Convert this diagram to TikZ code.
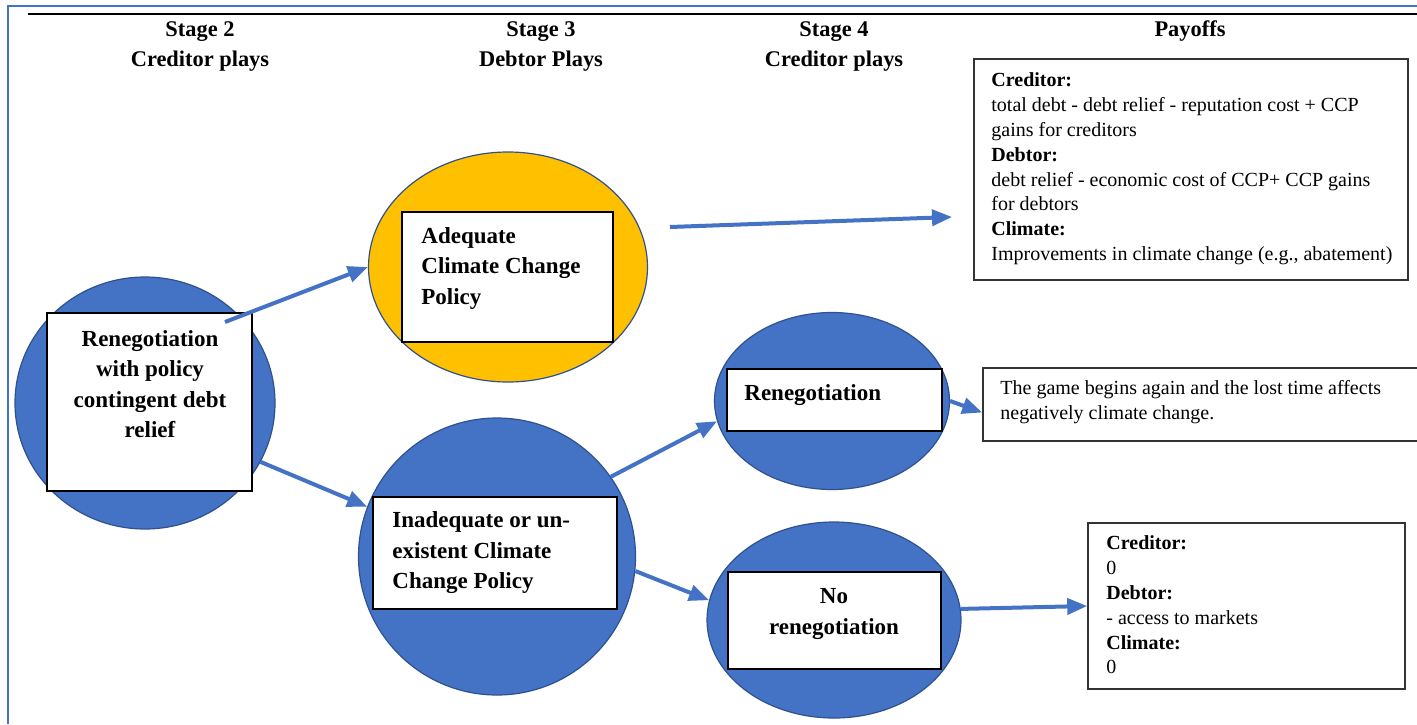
\documentclass[tikz,border=0pt]{standalone}
\usepackage{fontspec}
\setmainfont{Liberation Serif}
\usetikzlibrary{shapes.geometric,arrows.meta,calc}
\definecolor{obl}{HTML}{4472C4}
\definecolor{oblb}{HTML}{2F528F}
\definecolor{oyl}{HTML}{FFC000}
\begin{document}
\begin{tikzpicture}[x=0.5pt,y=-0.5pt,
  ell/.style={ellipse, draw=oblb, line width=0.6pt, inner sep=0pt},
  rbox/.style={rectangle, draw=black, line width=0.8pt, fill=white, inner sep=0pt},
  pbox/.style={rectangle, draw=black!80, line width=0.8pt, fill=white, inner sep=0pt},
  arr/.style={draw=obl, line width=2pt, -{Triangle[length=10pt,width=8pt]}},
  hdr/.style={font=\fontsize{11.2}{15}\selectfont\bfseries, align=center, inner sep=0pt},
  ntext/.style={font=\fontsize{11.5}{15.25}\selectfont\bfseries, inner sep=0pt},
  ptext/.style={font=\fontsize{10}{12.4}\selectfont, align=left, anchor=west, inner sep=0pt}]
\useasboundingbox (0,0) rectangle (1417,724);
\clip (0,0) rectangle (1417,724);
\fill[white] (0,0) rectangle (1417,724);
% frame
\draw[obl, line width=1pt] (8,724) -- (8,6) -- (1417,6);
\draw[black, line width=1pt] (28,14) -- (1417,14);
% headers
\node[hdr] (h2) at (200,46) {Stage 2\\Creditor plays};
\node[hdr] (h3) at (541,46) {Stage 3\\Debtor Plays};
\node[hdr] (h4) at (834,46) {Stage 4\\Creditor plays};
\node[hdr] (h5) at (1190,31) {Payoffs};
% ellipses
\node[ell, fill=obl, minimum width=130pt, minimum height=126pt] (e1) at (145,403) {};
\node[ell, fill=oyl, minimum width=139.5pt, minimum height=115pt] (e2) at (508,267) {};
\node[ell, fill=obl, minimum width=138.5pt, minimum height=138.5pt] (e3) at (497,556.5) {};
\node[ell, fill=obl, minimum width=117.5pt, minimum height=88.5pt] (e4) at (832,401) {};
\node[ell, fill=obl, minimum width=127pt, minimum height=98pt] (e5) at (834,620) {};
% inner boxes
\node[rbox, minimum width=102.5pt, minimum height=89pt] (r1) at (149.5,402) {};
\node[rbox, minimum width=105.5pt, minimum height=65pt] (r2) at (507.5,277) {};
\node[rbox, minimum width=122pt, minimum height=56pt] (r3) at (495,553) {};
\node[rbox, minimum width=107.5pt, minimum height=31pt] (r4) at (834.5,400) {};
\node[rbox, minimum width=106.5pt, minimum height=48.5pt] (r5) at (834.5,620.5) {};
% texts in boxes
\node[ntext, align=center] (t1) at (150,384) {Renegotiation\\with policy\\contingent debt\\relief};
\node[ntext, align=left, anchor=west] (t2) at (421,268) {Adequate\\Climate Change\\Policy};
\node[ntext, align=left, anchor=west] (t3) at (392,553) {Inadequate or un-\\existent Climate\\Change Policy};
\node[ntext, anchor=west] (t4) at (744,395) {Renegotiation};
\node[ntext, align=center] (t5) at (834,614) {No\\renegotiation};
% payoff boxes
\node[pbox, minimum width=217pt, minimum height=110.5pt] (p1) at (1191,169.5) {};
\node[pbox, minimum width=228.5pt, minimum height=36.5pt] (p2) at (1211.5,404.5) {};
\node[pbox, minimum width=158.5pt, minimum height=83pt] (p3) at (1246.5,606) {};
\node[ptext] (q1) at (991,169) {\textbf{Creditor:}\\total debt - debt relief - reputation cost + CCP\\gains for creditors\\\textbf{Debtor:}\\debt relief - economic cost of CCP+ CCP gains\\for debtors\\\textbf{Climate:}\\Improvements in climate change (e.g., abatement)};
\node[ptext] (q2) at (1000,402) {The game begins again and the lost time affects\\negatively climate change.};
\node[ptext] (q3) at (1106,605) {\textbf{Creditor:}\\0\\\textbf{Debtor:}\\- access to markets\\\textbf{Climate:}\\0};
% arrows
\coordinate (s1) at (225,322);
\coordinate (s3) at (670,227);
\coordinate (g3) at (952,217);
\draw[arr] (s1) -- (e2.west);
\draw[arr] (e1.-27) -- (e3.159);
\draw[arr] (s3) -- (g3);
\draw[arr] (e3.35) -- (e4.190);
\draw[arr] (e3.-6) -- (e5.171);
\draw[arr] (e4.east) -- ($(p2.west)+(0,8)$);
\draw[arr] (e5.5) -- (p3.west);
\end{tikzpicture}
\end{document}
